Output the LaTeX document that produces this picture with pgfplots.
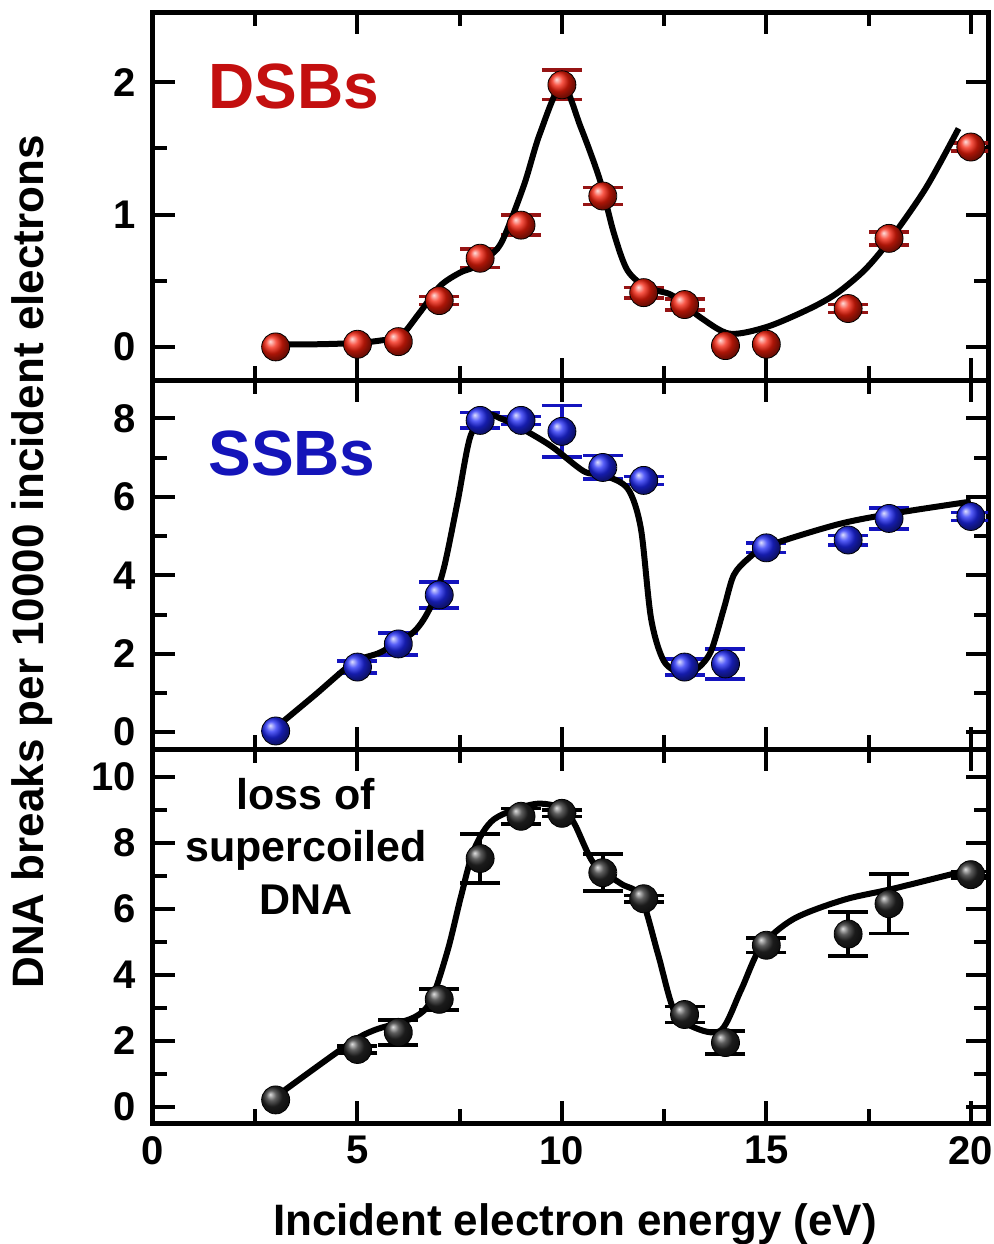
\documentclass[border=0pt]{standalone}
\usepackage{fontspec}
\setmainfont{Liberation Sans}
\usepackage{pgfplots}
\usepackage{pgfplotstable}
\pgfplotsset{compat=1.18}

\definecolor{dsbball}{RGB}{245,30,10}
\definecolor{dsbbar}{RGB}{150,20,20}
\definecolor{dsbtext}{RGB}{195,15,15}
\definecolor{ssbball}{RGB}{30,40,245}
\definecolor{ssbbar}{RGB}{20,20,190}
\definecolor{ssbtext}{RGB}{20,20,185}

% x = energy (eV), y = breaks per 10000 electrons, e = error
\pgfplotstableread{
x y e
3 0.00 0
5 0.02 0
6 0.04 0
7 0.35 0.03
8 0.67 0.07
9 0.92 0.075
10 1.98 0.11
11 1.14 0.065
12 0.41 0.04
13 0.32 0.04
14 0.01 0
15 0.02 0
17 0.29 0.03
18 0.82 0.05
20 1.51 0.03
}\dsb

\pgfplotstableread{
x y e
3 0.03 0
5 1.66 0.15
6 2.25 0.28
7 3.50 0.33
8 7.95 0.20
9 7.95 0.10
10 7.67 0.66
11 6.75 0.30
12 6.42 0.10
13 1.66 0.20
14 1.74 0.38
15 4.70 0.12
17 4.90 0.12
18 5.45 0.27
20 5.50 0.10
}\ssb

\pgfplotstableread{
x y e
3 0.21 0
5 1.74 0.10
6 2.26 0.38
7 3.26 0.32
8 7.53 0.74
9 8.81 0.24
10 8.90 0.10
11 7.10 0.56
12 6.31 0.10
13 2.80 0.24
14 1.95 0.35
15 4.90 0.22
17 5.24 0.66
18 6.16 0.90
20 7.04 0.10
}\loss

\pgfplotsset{
  panel/.style={
    scale only axis, width=417.5pt, xmin=0, xmax=20.42,
    anchor=north west,
    axis line style={line width=2.5pt},
    tick align=inside, tick style={line width=2pt, black},
    major tick length=11pt, minor tick length=7pt,
    xtick={0,5,10,15,20}, minor xtick={2.5,7.5,12.5,17.5},
    xticklabels={},
    ticklabel style={font=\bfseries\fontsize{20}{20}\selectfont},
    /pgf/number format/assume math mode=true,
    yticklabel style={inner sep=0pt, xshift=-8.5pt},
  },
  bars/.style={only marks, mark=none,
    error bars/.cd, y dir=both, y explicit, error mark=|,
    error bar style={line width=1.8pt},
    error mark options={line width=1.8pt, mark size=10pt}},
  balls/.style={only marks, mark=ball, mark size=7pt, mark options={ball color=#1}},
  fit/.style={smooth, line width=3pt, black, mark=none},
}

\begin{document}
\begin{tikzpicture}
\path[use as bounding box] (-76.5pt,6pt) rectangle (420.5pt,-616pt);

% DSBs
\begin{axis}[panel, at={(0,0)}, height=184pt,
  ymin=-0.25, ymax=2.53, ytick={0,1,2}, minor ytick={0.5,1.5}]
\addplot[color=dsbbar, skip coords between index={0}{3},
  skip coords between index={10}{12}, bars] table[x=x, y=y, y error=e] {\dsb};
\addplot[balls=dsbball] table[x=x, y=y] {\dsb};
\addplot[fit] coordinates {(3.05,0.02) (4,0.02) (5,0.03) (5.6,0.05) (6.05,0.08)
  (6.5,0.25) (7.02,0.46) (7.5,0.56) (7.83,0.6) (8.2,0.68) (8.54,0.8) (9.07,1.22)
  (9.46,1.61) (10.0,1.98) (10.46,1.66) (10.93,1.26) (11.27,0.86) (11.6,0.58)
  (12.07,0.45) (12.63,0.4) (13.0,0.32) (13.4,0.22) (14.1,0.1) (15.0,0.15)
  (16.0,0.28) (16.7,0.4) (17.4,0.58) (18.0,0.8) (18.9,1.2) (19.7,1.65)};
\node[anchor=base west, inner sep=0pt, text=dsbtext,
  font=\bfseries\fontsize{32}{32}\selectfont] at (axis cs:1.345,1.80) {DSBs};
\end{axis}

% SSBs
\begin{axis}[panel, at={(0,-184pt)}, height=184.5pt,
  ymin=-0.43, ymax=8.98, ytick={0,2,4,6,8}, minor ytick={1,3,5,7}]
\addplot[color=ssbbar, skip coords between index={0}{1}, bars]
  table[x=x, y=y, y error=e] {\ssb};
\addplot[balls=ssbball] table[x=x, y=y] {\ssb};
\addplot[fit] coordinates {(2.96,0.08) (3.94,0.93) (4.91,1.78) (5.57,2.04)
  (6.38,2.56) (6.8,3.22) (7.11,4.17) (7.45,5.88) (7.77,7.57) (8.19,8.08)
  (8.5,8.0) (8.92,7.8) (9.73,7.3) (10.54,6.65) (11.03,6.55) (11.61,6.21)
  (11.93,5.2) (12.18,2.9) (12.5,1.8) (12.98,1.48) (13.3,1.61) (13.64,2.05)
  (13.96,3.15) (14.2,4.0) (14.55,4.42) (15.04,4.75) (16.75,5.3) (18.12,5.58)
  (20.0,5.88)};
\node[anchor=base west, inner sep=0pt, text=ssbtext,
  font=\bfseries\fontsize{32}{32}\selectfont] at (axis cs:1.345,6.55) {SSBs};
\end{axis}

% loss of supercoiled DNA
\begin{axis}[panel, at={(0,-368.5pt)}, height=187pt,
  ymin=-0.49, ymax=10.85, ytick={0,2,4,6,8,10}, minor ytick={1,3,5,7,9},
  xticklabels={0,5,10,15,20},
  xticklabel style={inner sep=0pt, yshift=-6.5pt}]
\addplot[color=black, skip coords between index={0}{1}, bars]
  table[x=x, y=y, y error=e] {\loss};
\addplot[balls=black!85] table[x=x, y=y] {\loss};
\addplot[fit] coordinates {(2.96,0.27) (4.77,1.89) (5.4,2.32) (6.38,2.71)
  (6.8,3.23) (7.21,4.76) (7.53,6.37) (7.85,7.8) (8.34,8.72) (9.32,9.18)
  (9.98,9.06) (10.3,8.6) (10.78,7.38) (11.44,6.77) (11.93,6.37) (12.35,4.63)
  (12.74,2.93) (13.23,2.41) (13.89,2.32) (14.38,3.54) (14.87,4.85)
  (15.67,5.7) (16.9,6.28) (18.12,6.62) (20.0,7.2)};
\begin{scope}[every node/.style={anchor=base, inner sep=0pt,
  font=\bfseries\fontsize{21.5}{21.5}\selectfont}]
\node at (axis cs:3.74,9.02) {loss of};
\node at (axis cs:3.74,7.44) {supercoiled};
\node at (axis cs:3.74,5.82) {DNA};
\end{scope}
\end{axis}

\node[rotate=90, inner sep=0pt, font=\bfseries\fontsize{22}{22}\selectfont]
  at (-60.5pt,-275pt) {DNA breaks per 10000 incident electrons};
\node[anchor=base, inner sep=0pt, font=\bfseries\fontsize{22}{22}\selectfont]
  at (211pt,-611.5pt) {Incident electron energy (eV)};
\end{tikzpicture}
\end{document}
